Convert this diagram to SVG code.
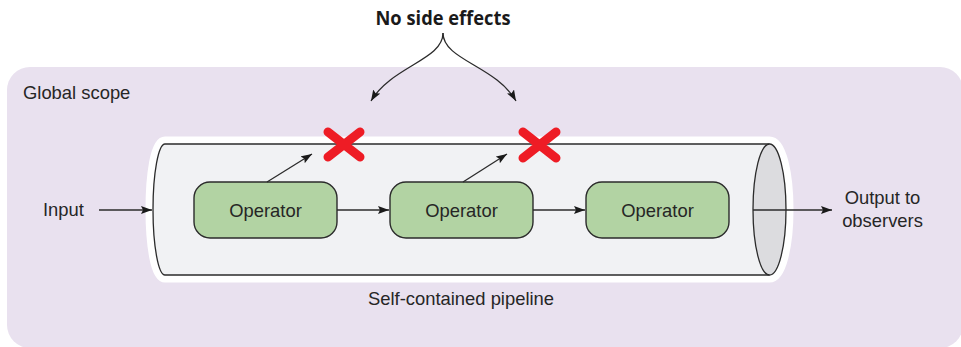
<svg xmlns="http://www.w3.org/2000/svg" width="961" height="347" viewBox="0 0 961 347">
<style>
.t{font-family:"Liberation Sans",Arial,sans-serif;font-size:18.4px;fill:#262626}
.c{stroke:#2b2b2b;stroke-width:1.3;fill:none}
.op{fill:#b2d3a3;stroke:#2b2b2b;stroke-width:1.4}
.x{stroke:#ee1c25;stroke-width:9;stroke-linecap:round;fill:none}
</style>
<defs>
<marker id="ah" markerUnits="userSpaceOnUse" markerWidth="12" markerHeight="10" refX="11" refY="4" orient="auto">
<path d="M0,0 L11,4 L0,8 L2,4 Z" fill="#1a1a1a"/>
</marker>
</defs>
<rect id="global" x="7" y="67" width="956" height="281" rx="23" fill="#e9e1ef"/>
<text class="t" x="23" y="98.5">Global scope</text>
<g id="pipeline">
<path d="M165,144 L769.5,144 A16.5,65.5 0 0 1 769.5,275 L165,275 A12,65.5 0 0 1 165,144 Z" fill="#fff" stroke="#fff" stroke-width="15" stroke-linejoin="round"/>
<path d="M165,144 L769.5,144 L769.5,275 L165,275 A12,65.5 0 0 1 165,144 Z" fill="#f1f2f4" stroke="none"/>
<path d="M769.5,144 L165,144 A12,65.5 0 0 0 165,275 L769.5,275" fill="none" stroke="#2b2b2b" stroke-width="1.3"/>
<ellipse cx="769.5" cy="209.5" rx="16.5" ry="65.5" fill="#dcdcdf" stroke="#2b2b2b" stroke-width="1.3"/>
<text class="t" x="461" y="305" text-anchor="middle">Self-contained pipeline</text>
</g>
<g id="op1"><rect class="op" x="194" y="182" width="143" height="56" rx="16"/><text class="t" x="265.5" y="216.5" text-anchor="middle">Operator</text></g>
<g id="op2"><rect class="op" x="390" y="182" width="143" height="56" rx="16"/><text class="t" x="461.5" y="216.5" text-anchor="middle">Operator</text></g>
<g id="op3"><rect class="op" x="586" y="182" width="143" height="56" rx="16"/><text class="t" x="657.5" y="216.5" text-anchor="middle">Operator</text></g>
<g id="input"><text class="t" x="43" y="216">Input</text></g>
<g id="output"><text class="t" x="882.5" y="203.5" text-anchor="middle">Output to</text><text class="t" x="882.5" y="227" text-anchor="middle">observers</text></g>
<g id="title"><text x="443" y="25" text-anchor="middle" font-family="'Open Sans','Liberation Sans',sans-serif" font-weight="bold" font-size="19" fill="#1a1a1a" textLength="135" lengthAdjust="spacingAndGlyphs">No side effects</text></g>
<g id="x1"><path class="x" d="M328,132 L360,157 M360,132 L328,157"/></g>
<g id="x2"><path class="x" d="M523,132 L556,158 M556,132 L523,158"/></g>
<g id="connectors">
<path class="c" d="M99,210 L152,210" marker-end="url(#ah)"/>
<path class="c" d="M337,210 L389,210" marker-end="url(#ah)"/>
<path class="c" d="M533,210 L585,210" marker-end="url(#ah)"/>
<path class="c" d="M753,210 L832,210" marker-end="url(#ah)"/>
<path class="c" d="M267,182 L312,154" marker-end="url(#ah)"/>
<path class="c" d="M463,182 L507,154" marker-end="url(#ah)"/>
<path class="c" d="M443,33 C443,60 392,66 371,101" marker-end="url(#ah)"/>
<path class="c" d="M443,33 C443,60 496,66 516,101" marker-end="url(#ah)"/>
</g>
</svg>
